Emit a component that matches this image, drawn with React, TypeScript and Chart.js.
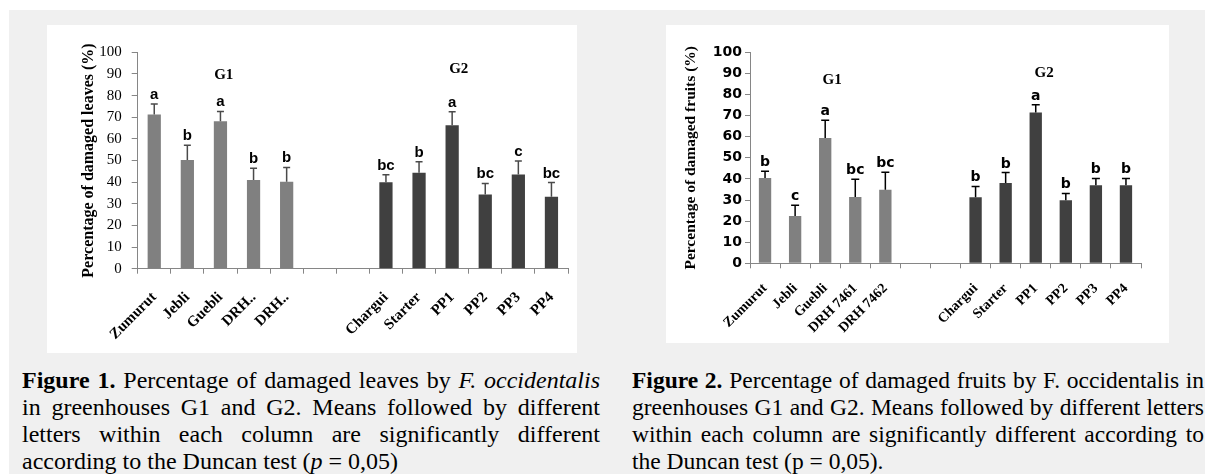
import React, { useEffect, useRef } from 'react';
import { Chart, registerables } from 'chart.js';

Chart.register(...registerables);

// ---------- data ----------
const leafCategories = ['Zumurut', 'Jebli', 'Guebli', 'DRH..', 'DRH..', '', '', 'Chargui', 'Starter', 'PP1', 'PP2', 'PP3', 'PP4'];
const fruitCategories = ['Zumurut', 'Jebli', 'Guebli', 'DRH 7461', 'DRH 7462', '', '', 'Chargui', 'Starter', 'PP1', 'PP2', 'PP3', 'PP4'];
const greenhouse = ['G1', 'G1', 'G1', 'G1', 'G1', '', '', 'G2', 'G2', 'G2', 'G2', 'G2', 'G2'];

const leafMeans: (number | null)[] = [71.3, 50.2, 68.1, 41, 40.2, null, null, 40, 44.3, 66.3, 34.3, 43.5, 33.2];
const leafErrors: (number | null)[] = [4.8, 6.8, 4.6, 5.4, 6.6, null, null, 3.4, 5.1, 6.2, 5.1, 6.3, 6.6];
const leafLetters = ['a', 'b', 'a', 'b', 'b', '', '', 'bc', 'b', 'a', 'bc', 'c', 'bc'];

const fruitMeans: (number | null)[] = [40.4, 22.4, 59.4, 31.4, 34.8, null, null, 31.3, 38, 71.5, 29.9, 37, 37];
const fruitErrors: (number | null)[] = [3.2, 5.1, 8.4, 8.4, 8.3, null, null, 5.1, 5, 3.6, 3.2, 3.2, 3.2];
const fruitLetters = ['b', 'c', 'a', 'bc', 'bc', '', '', 'b', 'b', 'a', 'b', 'b', 'b'];

const yTickValues = [0, 10, 20, 30, 40, 50, 60, 70, 80, 90, 100];
const groupNames = ['G1', 'G2'];

// ---------- styling ----------
const AXIS = '#868686';
const G1_COLOR = '#808080';
const G2_COLOR = '#404040';

type GroupLabel = { text: string; at: number; y: number };

type PanelSpec = {
  categories: string[];
  means: (number | null)[];
  errors: (number | null)[];
  letters: string[];
  yTitle: string;
  groupLabels: GroupLabel[];
  left: number;
  top: number;
  width: number;
  height: number;
  padTop: number;
  padRight: number;
  yWidth: number;
  xHeight: number;
  titlePad: number;
  titleSize: number;
  yTickLen: number;
  yPad: number;
  yTickFont: any;
  xTickFont: any;
  xPad: number;
  barPct: number;
  errColor: string;
  errWidth: number;
  capHalf: number;
  letterFont: string;
  letterGap: number;
  groupFont: string;
};

function BarPanel({ spec }: { spec: PanelSpec }) {
  const ref = useRef<HTMLCanvasElement | null>(null);
  useEffect(() => {
    const p = spec;
    const canvas = ref.current;
    if (!canvas) return;
    const annot = {
      id: 'annot',
      afterDatasetsDraw(chart: any) {
        const { ctx, scales } = chart;
        const xs = scales.x;
        const ys = scales.y;
        const meta = chart.getDatasetMeta(0);
        ctx.save();
        p.means.forEach((m, i) => {
          if (m == null) return;
          const e = p.errors[i] ?? 0;
          const bx = meta.data[i].x;
          const yb = ys.getPixelForValue(m);
          const yt = ys.getPixelForValue(m + e);
          ctx.strokeStyle = p.errColor;
          ctx.lineWidth = p.errWidth;
          ctx.beginPath();
          ctx.moveTo(bx, yb);
          ctx.lineTo(bx, yt);
          ctx.moveTo(bx - p.capHalf, yt);
          ctx.lineTo(bx + p.capHalf, yt);
          ctx.stroke();
          ctx.fillStyle = '#000';
          ctx.font = p.letterFont;
          ctx.textAlign = 'center';
          ctx.textBaseline = 'alphabetic';
          ctx.fillText(p.letters[i], bx, yt - p.letterGap);
        });
        p.groupLabels.forEach((g) => {
          ctx.fillStyle = '#000';
          ctx.font = p.groupFont;
          ctx.textAlign = 'center';
          ctx.textBaseline = 'middle';
          ctx.fillText(g.text, xs.getPixelForValue(g.at), ys.getPixelForValue(g.y));
        });
        ctx.restore();
      },
    };
    const chart = new Chart(canvas, {
      type: 'bar',
      data: {
        labels: p.categories,
        datasets: [
          {
            data: p.means as any,
            backgroundColor: greenhouse.map((g) => (g === 'G1' ? G1_COLOR : G2_COLOR)),
            borderWidth: 0,
            barPercentage: p.barPct,
            categoryPercentage: 1,
          },
        ],
      },
      options: {
        responsive: false,
        animation: false,
        devicePixelRatio: 1,
        layout: { padding: { left: 0, top: p.padTop, right: p.padRight, bottom: 0 } },
        plugins: {
          legend: { display: false },
          tooltip: { enabled: false },
          title: { display: false },
        },
        scales: {
          x: {
            offset: true,
            grid: { offset: true, drawOnChartArea: false, drawTicks: true, tickLength: 5, color: AXIS },
            border: { display: true, color: AXIS, width: 1 },
            ticks: {
              autoSkip: false,
              maxRotation: 45,
              minRotation: 45,
              padding: p.xPad,
              color: '#000',
              font: p.xTickFont,
            },
            afterFit: (s: any) => {
              s.height = p.xHeight;
            },
          },
          y: {
            min: 0,
            max: 100,
            afterBuildTicks: (s: any) => {
              s.ticks = yTickValues.map((v) => ({ value: v }));
            },
            grid: { drawOnChartArea: false, drawTicks: true, tickLength: p.yTickLen, color: AXIS },
            border: { display: true, color: AXIS, width: 1 },
            ticks: { padding: p.yPad, color: '#000', font: p.yTickFont },
            title: {
              display: true,
              text: p.yTitle,
              color: '#000',
              font: { family: 'Liberation Serif', size: p.titleSize, weight: 'bold' },
              padding: { top: p.titlePad, bottom: 0 },
            },
            afterFit: (s: any) => {
              s.width = p.yWidth;
            },
          },
        },
      } as any,
      plugins: [annot],
    });
    return () => chart.destroy();
  }, [spec]);
  return (
    <canvas
      ref={ref}
      width={spec.width}
      height={spec.height}
      style={{ position: 'absolute', left: spec.left, top: spec.top, width: spec.width, height: spec.height }}
    />
  );
}

const leafSpec: PanelSpec = {
  categories: leafCategories,
  means: leafMeans,
  errors: leafErrors,
  letters: leafLetters,
  yTitle: 'Percentage of damaged leaves (%)',
  groupLabels: [
    { text: groupNames[0], at: 2.1, y: 89.5 },
    { text: groupNames[1], at: 9.2, y: 92 },
  ],
  left: 47,
  top: 25,
  width: 560,
  height: 328,
  padTop: 27.3,
  padRight: 39,
  yWidth: 90.7,
  xHeight: 84.3,
  titlePad: 32,
  titleSize: 16,
  yTickLen: 6,
  yPad: 10,
  yTickFont: { family: 'Liberation Serif', size: 15, weight: 'normal' },
  xTickFont: { family: 'Liberation Serif', size: 15, weight: 'bold' },
  xPad: 15,
  barPct: 0.4,
  errColor: '#4a4a4a',
  errWidth: 1.5,
  capHalf: 3.5,
  letterFont: 'bold 15px "Liberation Sans"',
  letterGap: 5,
  groupFont: 'bold 15px "Liberation Serif"',
};

const fruitSpec: PanelSpec = {
  categories: fruitCategories,
  means: fruitMeans,
  errors: fruitErrors,
  letters: fruitLetters,
  yTitle: 'Percentage of damaged fruits (%)',
  groupLabels: [
    { text: groupNames[0], at: 2.23, y: 86.9 },
    { text: groupNames[1], at: 9.28, y: 90.2 },
  ],
  left: 666,
  top: 25,
  width: 539,
  height: 318,
  padTop: 27.3,
  padRight: 64,
  yWidth: 84,
  xHeight: 79.7,
  titlePad: 16,
  titleSize: 15.5,
  yTickLen: 5,
  yPad: 3,
  yTickFont: { family: 'DejaVu Sans', size: 14, weight: 'bold' },
  xTickFont: { family: 'Liberation Serif', size: 14, weight: 'bold' },
  xPad: 12,
  barPct: 0.41,
  errColor: '#000000',
  errWidth: 1.5,
  capHalf: 4,
  letterFont: 'bold 14px "DejaVu Sans"',
  letterGap: 5,
  groupFont: 'bold 15px "Liberation Serif"',
};

const lineStyle: React.CSSProperties = {
  textAlign: 'justify',
  textAlignLast: 'justify' as any,
  whiteSpace: 'nowrap',
  height: 27,
};
const lastLineStyle: React.CSSProperties = {
  textAlign: 'left',
  whiteSpace: 'nowrap',
  height: 27,
};

export default function App() {
  return (
    <div
      style={{
        position: 'absolute',
        left: 0,
        top: 0,
        width: 1205,
        height: 474,
        background: '#ffffff',
        overflow: 'hidden',
      }}
    >
      <div style={{ position: 'absolute', left: 9, top: 10, right: 0, bottom: 0, background: '#f0f0f0' }} />
      <div style={{ position: 'absolute', left: 47, top: 25, width: 530, height: 328, background: '#ffffff' }} />
      <div style={{ position: 'absolute', left: 666, top: 25, width: 503, height: 318, background: '#ffffff' }} />
      <BarPanel spec={leafSpec} />
      <BarPanel spec={fruitSpec} />
      <div
        style={{
          position: 'absolute',
          left: 22,
          top: 367,
          width: 578,
          fontFamily: '"Liberation Serif", serif',
          fontSize: 24,
          lineHeight: '27px',
          color: '#000',
        }}
      >
        <div style={lineStyle}>
          <b>Figure 1.</b> Percentage of damaged leaves by <i>F. occidentalis</i>
        </div>
        <div style={lineStyle}>in greenhouses G1 and G2. Means followed by different</div>
        <div style={lineStyle}>letters within each column are significantly different</div>
        <div style={lastLineStyle}>
          according to the Duncan test (<i>p</i> = 0,05)
        </div>
      </div>
      <div
        style={{
          position: 'absolute',
          left: 632,
          top: 367,
          width: 572,
          fontFamily: '"Liberation Serif", serif',
          fontSize: 23.5,
          lineHeight: '27px',
          color: '#000',
        }}
      >
        <div style={lineStyle}>
          <b>Figure 2.</b> Percentage of damaged fruits by F. occidentalis in
        </div>
        <div style={lineStyle}>greenhouses G1 and G2. Means followed by different letters</div>
        <div style={lineStyle}>within each column are significantly different according to</div>
        <div style={lastLineStyle}>the Duncan test (p = 0,05).</div>
      </div>
    </div>
  );
}
